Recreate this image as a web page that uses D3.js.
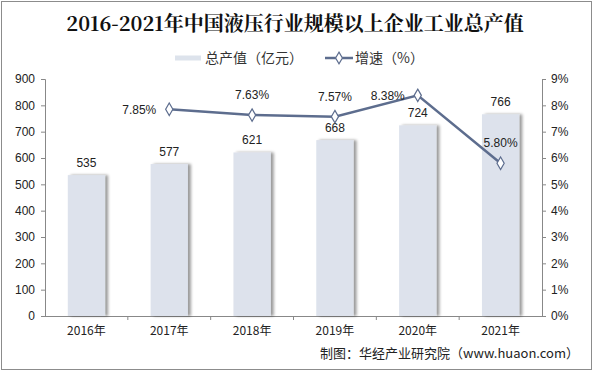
<!DOCTYPE html>
<html>
<head>
<meta charset="utf-8">
<script src="https://cdn.jsdelivr.net/npm/d3@7"></script>
<style>
  body { margin: 0; background: #fff; }
  svg text { font-family: "Liberation Sans", Arial, sans-serif; }
</style>
</head>
<body>
<svg id="chart" width="593" height="372"></svg>
<script>
const years = ['2016年', '2017年', '2018年', '2019年', '2020年', '2021年'];
const output = [535, 577, 621, 668, 724, 766];
const growth = [null, 7.85, 7.63, 7.57, 8.38, 5.80];
// where each growth label sits relative to its point
const growthLabelPos = [null, 'left', 'above', 'above', 'left', 'above'];
const leftTicks = [0, 100, 200, 300, 400, 500, 600, 700, 800, 900];
const rightTicks = [0, 1, 2, 3, 4, 5, 6, 7, 8, 9];

const W = 593, H = 372;
const m = { left: 45, right: 51, top: 79, bottom: 56 };
const svg = d3.select('#chart');

svg.append('rect')
  .attr('x', 1.5).attr('y', 1.5)
  .attr('width', W - 3).attr('height', H - 4)
  .attr('fill', '#fff').attr('stroke', '#8c8c8c').attr('stroke-width', 1);

const defs = svg.append('defs');
const f = defs.append('filter').attr('id', 'shadow').attr('x', '-20%').attr('width', '150%');
f.append('feGaussianBlur').attr('in', 'SourceAlpha').attr('stdDeviation', 1.5);
f.append('feOffset').attr('dx', 2.5).attr('dy', 0).attr('result', 'ob');
f.append('feComponentTransfer').append('feFuncA').attr('type', 'linear').attr('slope', 0.4);
const fm = f.append('feMerge');
fm.append('feMergeNode');
fm.append('feMergeNode').attr('in', 'SourceGraphic');

const x = d3.scaleBand().domain(years).range([m.left, W - m.right]).paddingInner(0.55).paddingOuter(0.275);
const xc = d => x(d) + x.bandwidth() / 2;
const yL = d3.scaleLinear().domain([0, 900]).range([H - m.bottom, m.top]);
const yR = d3.scaleLinear().domain([0, 9]).range([H - m.bottom, m.top]);

// title
svg.append('text')
  .attr('x', 295).attr('y', 31)
  .attr('text-anchor', 'middle')
  .style('font-family', '"Noto Serif CJK SC", "Noto Sans CJK SC", serif')
  .style('font-size', '20px').style('font-weight', 'bold')
  .attr('fill', '#111')
  .text('2016-2021年中国液压行业规模以上企业工业总产值');

// legend
const lg = svg.append('g').attr('transform', 'translate(0,58)');
lg.append('rect').attr('x', 175).attr('y', -2.5).attr('width', 26).attr('height', 5).attr('fill', '#dde3ec');
lg.append('text').attr('x', 205).attr('y', 5).style('font-family', '"Noto Sans CJK SC", sans-serif')
  .style('font-size', '14px').attr('fill', '#333').text('总产值（亿元）');
lg.append('line').attr('x1', 325).attr('x2', 353).attr('y1', 0).attr('y2', 0)
  .attr('stroke', '#5d6d8e').attr('stroke-width', 2.5);
lg.append('path').attr('d', d3.symbol(d3.symbolDiamond, 40)()).attr('transform', 'translate(339,0)')
  .attr('fill', '#fff').attr('stroke', '#5d6d8e').attr('stroke-width', 1.2);
lg.append('text').attr('x', 355).attr('y', 5).style('font-family', '"Noto Sans CJK SC", sans-serif')
  .style('font-size', '14px').attr('fill', '#333').text('增速（%）');

// axes
const axL = svg.append('g').attr('transform', `translate(${m.left},0)`)
  .call(d3.axisLeft(yL).tickValues(leftTicks).tickSize(4).tickPadding(6));
const axR = svg.append('g').attr('transform', `translate(${W - m.right},0)`)
  .call(d3.axisRight(yR).tickValues(rightTicks).tickSize(4).tickPadding(5).tickFormat(d => d + '%'));
const axB = svg.append('g').attr('transform', `translate(0,${H - m.bottom})`)
  .call(d3.axisBottom(x).tickSize(0).tickPadding(10));
axB.select('.domain').attr('d', `M${m.left},0.5H${W - m.right}`);
axB.selectAll('.sep').data(years.slice(1)).enter().append('line')
  .attr('x1', d => x(d) - x.step() * x.paddingInner() / 2)
  .attr('x2', d => x(d) - x.step() * x.paddingInner() / 2)
  .attr('y1', 0).attr('y2', 4).attr('stroke', '#888');
[axL, axR, axB].forEach(a => {
  a.selectAll('.domain, .tick line').attr('stroke', '#888');
  a.selectAll('text').style('font-size', '12px').attr('fill', '#222');
});
axB.selectAll('text').style('font-family', '"Noto Sans CJK SC", sans-serif');

// bars
svg.append('g').selectAll('rect').data(output).enter().append('rect')
  .attr('x', (d, i) => x(years[i]))
  .attr('y', d => yL(d))
  .attr('width', x.bandwidth())
  .attr('height', d => yL(0) - yL(d))
  .attr('fill', '#dde2ec')
  .attr('filter', 'url(#shadow)');

svg.append('g').selectAll('text').data(output).enter().append('text')
  .attr('x', (d, i) => xc(years[i]))
  .attr('y', d => yL(d) - 8)
  .attr('text-anchor', 'middle')
  .style('font-size', '12px').attr('fill', '#222')
  .text(d => d);

// growth line
const pts = growth.map((g, i) => ({ g, yr: years[i], pos: growthLabelPos[i] })).filter(p => p.g != null);
svg.append('path').datum(pts)
  .attr('d', d3.line().x(p => xc(p.yr)).y(p => yR(p.g)))
  .attr('fill', 'none').attr('stroke', '#5d6d8e').attr('stroke-width', 2.5);
svg.append('g').selectAll('path').data(pts).enter().append('path')
  .attr('d', d3.symbol(d3.symbolDiamond, 45)())
  .attr('transform', p => `translate(${xc(p.yr)},${yR(p.g)})`)
  .attr('fill', '#fff').attr('stroke', '#5d6d8e').attr('stroke-width', 1.2);
svg.append('g').selectAll('text').data(pts).enter().append('text')
  .attr('x', p => p.pos === 'left' ? xc(p.yr) - 13 : xc(p.yr))
  .attr('y', p => p.pos === 'left' ? yR(p.g) + 4.5 : yR(p.g) - 16)
  .attr('text-anchor', p => p.pos === 'left' ? 'end' : 'middle')
  .style('font-size', '12px').attr('fill', '#222')
  .text(p => p.g.toFixed(2) + '%');

// source
svg.append('text')
  .attr('x', 579).attr('y', 358)
  .attr('text-anchor', 'end')
  .style('font-family', '"Noto Sans CJK SC", sans-serif')
  .style('font-size', '13px').attr('fill', '#222')
  .text('制图：华经产业研究院（www.huaon.com）');
</script>
</body>
</html>
